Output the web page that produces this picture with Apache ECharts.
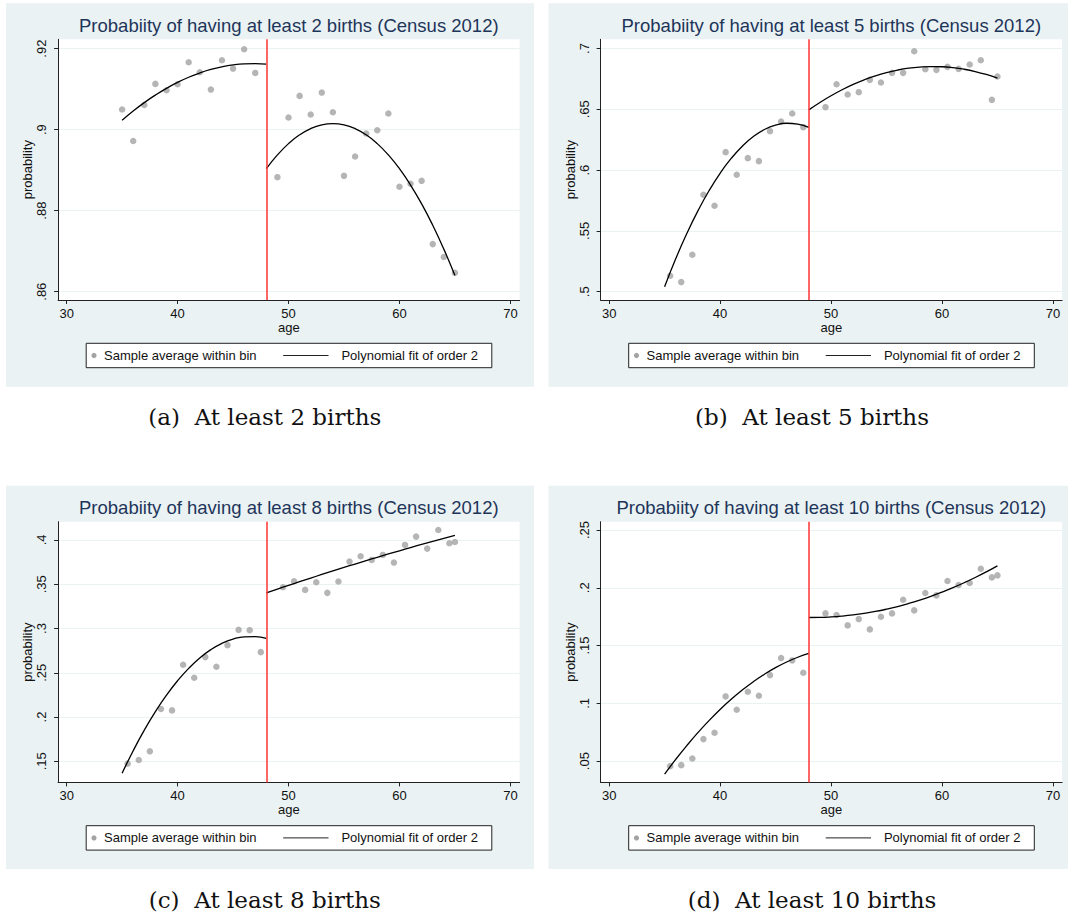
<!DOCTYPE html>
<html>
<head>
<meta charset="utf-8">
<script src="https://cdn.jsdelivr.net/npm/echarts@6/dist/echarts.min.js"></script>
<style>
html, body { margin: 0; padding: 0; background: #fff; }
#chart { width: 1068px; height: 915px; }
</style>
</head>
<body>
<div id="chart"></div>
<script>
// bins: panel (a) uses integer ages, the others use bin midpoints
var ageBinsA = [35, 36, 37, 38, 39, 40, 41, 42, 43, 44, 45, 46, 47,
    49, 50, 51, 52, 53, 54, 55, 56, 57, 58, 59, 60, 61, 62, 63, 64, 65];
var ageBinsMid = [35.5, 36.5, 37.5, 38.5, 39.5, 40.5, 41.5, 42.5, 43.5, 44.5, 45.5, 46.5, 47.5,
    49.5, 50.5, 51.5, 52.5, 53.5, 54.5, 55.5, 56.5, 57.5, 58.5, 59.5, 60.5, 61.5, 62.5, 63.5, 64.5, 65];
var fitAgesLeft = [35, 36, 37, 38, 39, 40, 41, 42, 43, 44, 45, 46, 47, 48];
var fitAgesRight = [48, 49, 50, 51, 52, 53, 54, 55, 56, 57, 58, 59, 60, 61, 62, 63, 64, 65];
var cutoff = 48;

var probA = [.90496, .8972, .9061, .91129, .90973, .91121, .91663, .91416, .90989, .91712, .91507, .91984, .914,
    .88827, .90299, .90833, .90373, .90915, .9043, .8886, .89337, .89904, .89986, .90397, .88589, .88663, .88737, .87175, .86855, .86469];
var probB = [.51315, .50795, .53041, .57973, .57068, .61479, .59616, .60986, .6074, .63205, .64, .64658, .63534,
    .65178, .67068, .66219, .66411, .67425, .67205, .68, .68, .69781, .68301, .68247, .68493, .68329, .68685, .69041, .65781, .67699];
var probC = [.14737, .1515, .16128, .20902, .20752, .25902, .24436, .26767, .25677, .2812, .2985, .29812, .27331,
    .34662, .35338, .34361, .35226, .34023, .35301, .37556, .38158, .37744, .38308, .37444, .39436, .40376, .39023, .41128, .39624, .39774];
var probD = [.04567, .04654, .05231, .06905, .07453, .10599, .09444, .11003, .10657, .12446, .13918, .13716, .12648,
    .17785, .17641, .16746, .17294, .164, .17496, .17785, .18968, .18045, .19545, .19343, .20584, .20238, .20411, .21652, .20902, .21075];

var fitALeft = [.90233, .9046, .90667, .90853, .9102, .91166, .91293, .91399, .91485, .91551, .91598, .91624, .9163, .91616];
var fitARight = [.89035, .89376, .89655, .89872, .90027, .9012, .90151, .9012, .90027, .89872, .89655, .89376, .89035, .88632, .88167, .8764, .87051, .864];
var fitBLeft = [.50413, .52707, .54787, .56652, .58303, .59739, .60961, .61969, .62762, .63341, .63706, .63856, .63791, .63513];
var fitBRight = [.64958, .65565, .66116, .6661, .67048, .67428, .67752, .68019, .68229, .68383, .68479, .68519, .68502, .68428, .68297, .6811, .67866, .67565];
var fitCLeft = [.13652, .16201, .1852, .20609, .22469, .24099, .255, .26671, .27612, .28324, .28806, .29059, .29082, .28875];
var fitCRight = [.34023, .3445, .34871, .35287, .35697, .36102, .36501, .36895, .37282, .37665, .38042, .38414, .38779, .3914, .39494, .39844, .40187, .40526];
var fitDLeft = [.03874, .0515, .06346, .07464, .08504, .09464, .10347, .11151, .11876, .12522, .1309, .1358, .1399, .14322];
var fitDRight = [.17431, .17438, .17476, .17547, .17649, .17784, .17951, .1815, .1838, .18643, .18938, .19265, .19624, .20015, .20439, .20894, .21381, .219];

var xTicks = [30, 40, 50, 60, 70];
var yTicksA = [.86, .88, .9, .92];
var yTicksB = [.5, .55, .6, .65, .7];
var yTicksC = [.15, .2, .25, .3, .35, .4];
var yTicksD = [.05, .1, .15, .2, .25];
var yRanges = [[.85795, .9223], [.4932, .7076], [.1262, .4206], [.0316, .2572]];

var titles = ['Probabiity of having at least 2 births (Census 2012)',
    'Probabiity of having at least 5 births (Census 2012)',
    'Probabiity of having at least 8 births (Census 2012)',
    'Probabiity of having at least 10 births (Census 2012)'];
var captions = ['(a)  At least 2 births', '(b)  At least 5 births', '(c)  At least 8 births', '(d)  At least 10 births'];
var legendNames = ['Sample average within bin', 'Polynomial fit of order 2'];

var panels = [
    {bins: ageBinsA, prob: probA, fitL: fitALeft, fitR: fitARight, ticks: yTicksA},
    {bins: ageBinsMid, prob: probB, fitL: fitBLeft, fitR: fitBRight, ticks: yTicksB},
    {bins: ageBinsMid, prob: probC, fitL: fitCLeft, fitR: fitCRight, ticks: yTicksC},
    {bins: ageBinsMid, prob: probD, fitL: fitDLeft, fitR: fitDRight, ticks: yTicksD}
];

function zip(xs, ys) {
    var out = [];
    for (var i = 0; i < xs.length; i++) out.push([xs[i], ys[i]]);
    return out;
}
function fmtProb(v) {
    return String(+v.toFixed(3)).replace(/^0\./, '.');
}

var BG = '#eaf2f3';
var FONT = 'Liberation Sans, Arial, sans-serif';
var colDx = 542.5, rowDy = 482.4;

var grids = [], xAxes = [], yAxes = [], series = [], graphics = [];

panels.forEach(function (p, i) {
    var dx = (i % 2) * colDx, dy = Math.floor(i / 2) * rowDy;

    graphics.push({type: 'rect', z: -5, shape: {x: 6 + dx, y: 3.3 + dy, width: i % 2 ? 520 : 528, height: 383.4},
        style: {fill: BG}});
    graphics.push({type: 'text', z: 5, x: 288.8 + dx, y: 25.5 + dy,
        style: {text: titles[i], font: '18.5px ' + FONT, fill: '#1e355a', align: 'center', verticalAlign: 'middle'}});
    graphics.push({type: 'text', z: 5, x: (i % 2 ? 812 : 264.8), y: 417.3 + dy,
        style: {text: captions[i], font: '23px DejaVu Serif, serif', fill: '#111', align: 'center', verticalAlign: 'middle'}});

    // legend box
    var lx = 86.2 + dx, ly = 343.3 + dy, lh = 24.4, cy = ly + lh / 2;
    graphics.push({type: 'rect', z: 5, shape: {x: lx, y: ly, width: 405.6, height: lh},
        style: {fill: '#fff', stroke: '#222', lineWidth: 1}});
    graphics.push({type: 'circle', z: 6, shape: {cx: lx + 7.8, cy: cy, r: 2.6}, style: {fill: '#a3a3a3'}});
    graphics.push({type: 'text', z: 6, x: lx + 17.9, y: cy,
        style: {text: legendNames[0], font: '13px ' + FONT, fill: '#111', verticalAlign: 'middle'}});
    graphics.push({type: 'line', z: 6, shape: {x1: lx + 197, y1: cy, x2: lx + 242.3, y2: cy},
        style: {stroke: '#222', lineWidth: 1}});
    graphics.push({type: 'text', z: 6, x: lx + 255.2, y: cy,
        style: {text: legendNames[1], font: '13px ' + FONT, fill: '#111', verticalAlign: 'middle'}});

    grids.push({left: 58.1 + dx, top: 39.3 + dy, width: 461.5, height: 260.7,
        show: true, backgroundColor: '#fff', borderWidth: 0});

    xAxes.push({
        type: 'value', gridIndex: i, min: 29.23, max: 70.83,
        name: 'age', nameLocation: 'middle', nameGap: 21,
        nameTextStyle: {fontFamily: FONT, fontSize: 13, color: '#111'},
        axisLine: {show: true, onZero: false, lineStyle: {color: '#222', width: 1}},
        axisTick: {show: true, length: 4, customValues: xTicks, lineStyle: {color: '#222'}},
        axisLabel: {customValues: xTicks, margin: 7, fontFamily: FONT, fontSize: 13, color: '#111'},
        splitLine: {show: false}
    });
    yAxes.push({
        type: 'value', gridIndex: i, min: yRanges[i][0], max: yRanges[i][1],
        name: 'probability', nameLocation: 'middle', nameGap: 24,
        nameTextStyle: {fontFamily: FONT, fontSize: 13, color: '#111'},
        axisLine: {show: true, onZero: false, lineStyle: {color: '#222', width: 1}},
        axisTick: {show: true, length: 4, customValues: p.ticks, lineStyle: {color: '#222'}},
        axisLabel: {customValues: p.ticks, rotate: 90, margin: 10, fontFamily: FONT, fontSize: 13, color: '#111',
            formatter: fmtProb},
        splitLine: {show: true, lineStyle: {color: BG, width: 1.2}}
    });

    series.push({
        type: 'scatter', name: legendNames[0], xAxisIndex: i, yAxisIndex: i,
        data: zip(p.bins, p.prob), symbolSize: 6.5, itemStyle: {color: '#a3a3a3'}, z: 3,
        markLine: {
            silent: true, symbol: 'none', label: {show: false},
            lineStyle: {color: '#ff3333', width: 1.5, type: 'solid'},
            data: [{xAxis: cutoff}]
        }
    });
    [zip(fitAgesLeft, p.fitL), zip(fitAgesRight, p.fitR)].forEach(function (d) {
        series.push({
            type: 'line', name: legendNames[1], xAxisIndex: i, yAxisIndex: i, data: d,
            showSymbol: false, smooth: true, z: 4,
            lineStyle: {color: '#000', width: 1.3}
        });
    });
});

var chart = echarts.init(document.getElementById('chart'), null, {renderer: 'svg'});
chart.setOption({
    animation: false,
    backgroundColor: '#fff',
    grid: grids,
    xAxis: xAxes,
    yAxis: yAxes,
    series: series,
    graphic: graphics
});
</script>
</body>
</html>
